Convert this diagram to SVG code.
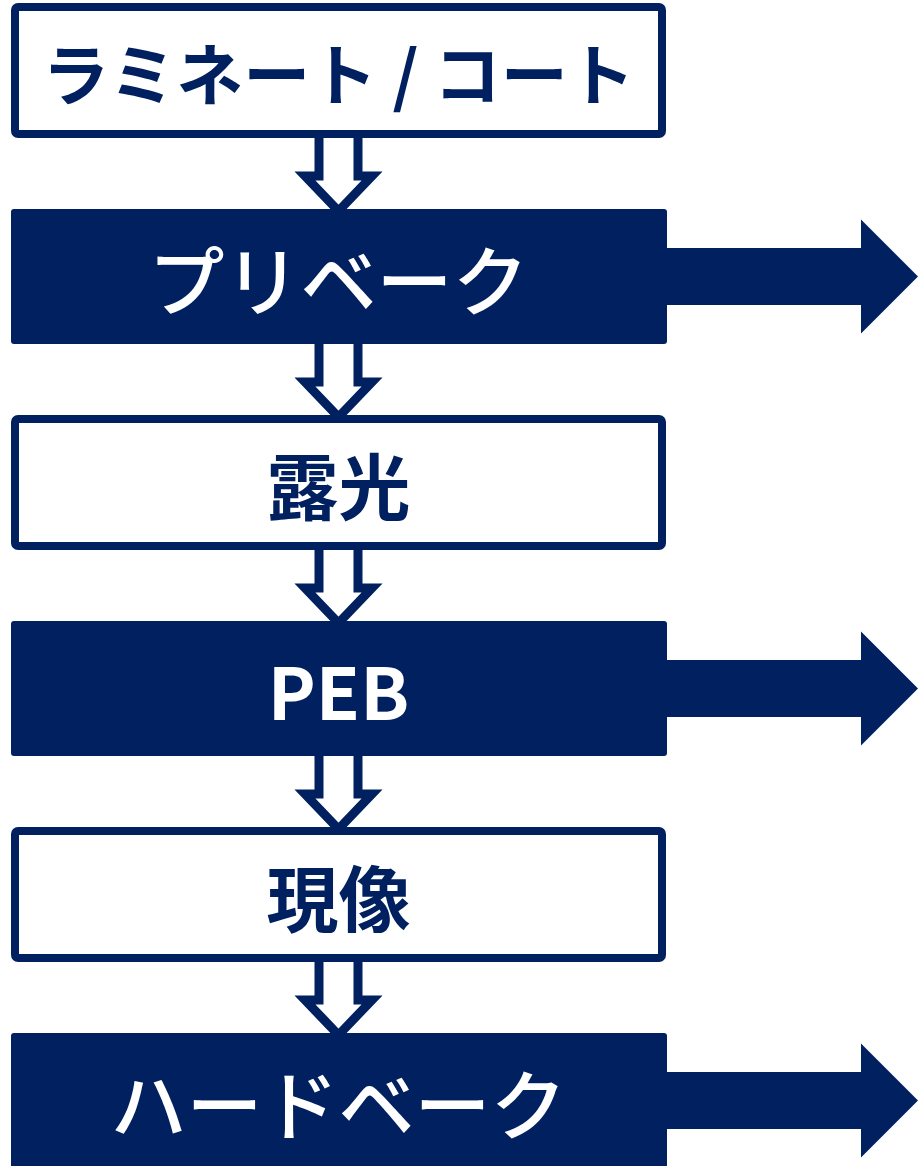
<svg xmlns="http://www.w3.org/2000/svg" width="919" height="1166" viewBox="0 0 919 1166">
<style>
.bg{fill:#ffffff}
.down{fill:#ffffff;stroke:#002060;stroke-width:9;stroke-linejoin:miter}
.right{fill:#002060}
.wbox{fill:#ffffff;stroke:#002060;stroke-width:8}
.dbox{fill:#002060}
.t{font-family:"Noto Sans CJK JP","Noto Sans",sans-serif;text-anchor:middle;dominant-baseline:central}
.td{fill:#002060;font-weight:700}
.tw{fill:#ffffff;font-weight:500}
</style>
<rect class="bg" x="0" y="0" width="919" height="1166"/>
<g id="connectors">
  <path class="down" d="M319,128 V176 H305 L338.5,211 L372,176 H358 V128"/>
  <path class="down" d="M319,334 V382 H305 L338.5,417 L372,382 H358 V334"/>
  <path class="down" d="M319,540 V588 H305 L338.5,623 L372,588 H358 V540"/>
  <path class="down" d="M319,746 V794 H305 L338.5,829 L372,794 H358 V746"/>
  <path class="down" d="M319,952 V1000 H305 L338.5,1035 L372,1000 H358 V952"/>
  <polygon class="right" points="660,248 861,248 861,219.5 918,276.5 861,333.5 861,305 660,305"/>
  <polygon class="right" points="660,660 861,660 861,631.5 918,688.5 861,745.5 861,717 660,717"/>
  <polygon class="right" points="660,1072 861,1072 861,1043.5 918,1100.5 861,1157.5 861,1129 660,1129"/>
</g>
<g id="node-laminate">
  <rect class="wbox" x="15" y="7" width="647" height="127" rx="3"/>
  <text class="t td" x="338.5" y="70.5" font-size="67" xml:space="preserve">ラミネート / コート</text>
</g>
<g id="node-prebake">
  <rect class="dbox" x="11" y="209" width="656" height="135" rx="3"/>
  <text class="t tw" x="338.5" y="276.5" font-size="76">プリベーク</text>
</g>
<g id="node-exposure">
  <rect class="wbox" x="15" y="419" width="647" height="127" rx="3"/>
  <text class="t td" x="338.5" y="482.5" font-size="72">露光</text>
</g>
<g id="node-peb">
  <rect class="dbox" x="11" y="621" width="656" height="135" rx="3"/>
  <text class="t" x="338.5" y="688.5" font-size="72" font-weight="700" fill="#ffffff">PEB</text>
</g>
<g id="node-develop">
  <rect class="wbox" x="15" y="831" width="647" height="127" rx="3"/>
  <text class="t td" x="338.5" y="894.5" font-size="72">現像</text>
</g>
<g id="node-hardbake">
  <rect class="dbox" x="11" y="1033" width="656" height="135" rx="3"/>
  <text class="t tw" x="338.5" y="1100.5" font-size="76">ハードベーク</text>
</g>
</svg>
